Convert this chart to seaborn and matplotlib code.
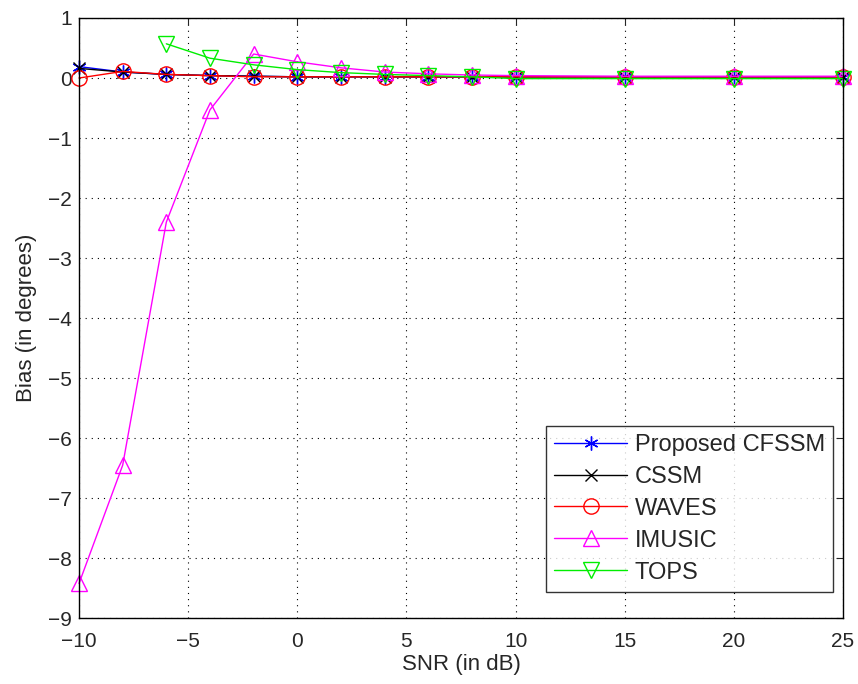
import matplotlib
matplotlib.use("Agg")
import matplotlib.pyplot as plt
import seaborn as sns
import pandas as pd

snr = [-10, -8, -6, -4, -2, 0, 2, 4, 6, 8, 10, 15, 20, 25]
snr_tops = [-6, -4, -2, 0, 2, 4, 6, 8, 10, 15, 20, 25]

proposed = [0.19, 0.10, 0.06, 0.04, 0.03, 0.02, 0.02, 0.02, 0.02, 0.02, 0.02, 0.02, 0.02, 0.02]
cssm = [0.16, 0.10, 0.06, 0.04, 0.03, 0.02, 0.02, 0.02, 0.02, 0.02, 0.02, 0.02, 0.02, 0.02]
waves = [0.0, 0.11, 0.06, 0.04, 0.02, 0.02, 0.02, 0.02, 0.02, 0.02, 0.02, 0.02, 0.02, 0.02]
imusic = [-8.42, -6.45, -2.4, -0.53, 0.4, 0.27, 0.17, 0.1, 0.07, 0.05, 0.04, 0.03, 0.03, 0.03]
tops = [0.57, 0.33, 0.22, 0.14, 0.09, 0.06, 0.04, 0.02, -0.01, -0.01, -0.01, -0.01]

names = ["Proposed CFSSM", "CSSM", "WAVES", "IMUSIC", "TOPS"]

rows = []
for name, xs, ys in [(names[0], snr, proposed), (names[1], snr, cssm),
                     (names[2], snr, waves), (names[3], snr, imusic),
                     (names[4], snr_tops, tops)]:
    for xv, yv in zip(xs, ys):
        rows.append({"method": name, "snr": xv, "bias": yv})
df = pd.DataFrame(rows)

sns.set_style("white")
plt.rcParams["font.family"] = ["Liberation Sans", "DejaVu Sans"]

fig = plt.figure(figsize=(8.58, 6.84), dpi=100)
ax = fig.add_axes([0.0921, 0.0961, 0.8904, 0.8776])

styles = {
    "Proposed CFSSM": dict(color="#0000ff", marker=(6, 2, 0), ms=10, mew=1.0),
    "CSSM": dict(color="#000000", marker="x", ms=8, mew=1.0),
    "WAVES": dict(color="#ff0000", marker="o", ms=11, mew=1.0, mfc="none"),
    "IMUSIC": dict(color="#ff00ff", marker="^", ms=12, mew=1.0, mfc="none"),
    "TOPS": dict(color="#00ee00", marker="v", ms=12, mew=1.0, mfc="none"),
}

for name in names:
    st = styles[name]
    sub = df[df["method"] == name]
    sns.lineplot(data=sub, x="snr", y="bias", ax=ax, label=name,
                 color=st["color"], marker=st["marker"], markersize=st["ms"],
                 markeredgewidth=st["mew"], markeredgecolor=st["color"],
                 markerfacecolor=st.get("mfc", st["color"]),
                 linewidth=1.0, sort=False, estimator=None, clip_on=False)

ax.set_xlim(-10, 25)
ax.set_ylim(-9, 1)
ax.set_xticks([-10, -5, 0, 5, 10, 15, 20, 25])
ax.set_yticks(list(range(-9, 2)))
ax.set_xticklabels(["\u221210", "\u22125", "0", "5", "10", "15", "20", "25"])
ax.set_yticklabels(["\u2212%d" % (-v) if v < 0 else str(v) for v in range(-9, 2)])
ax.tick_params(direction="in", top=True, right=True, labelsize=15, length=5, width=0.8)
ax.tick_params(axis="x", pad=10)
ax.tick_params(axis="y", pad=5)
ax.grid(True, linestyle=(0, (1, 4.5)), color="black", linewidth=0.8)
for s in ax.spines.values():
    s.set_color("black")
    s.set_linewidth(1.0)
ax.set_xlabel("SNR (in dB)", fontsize=16, labelpad=2)
ax.set_ylabel("Bias (in degrees)", fontsize=16, labelpad=8)

leg = ax.legend(loc="lower right", fontsize=17, frameon=True, fancybox=False,
                edgecolor="black", handlelength=3.1, handletextpad=0.3,
                borderpad=0.35, labelspacing=0.42, borderaxespad=0,
                bbox_to_anchor=(0.987, 0.044))
leg.get_frame().set_linewidth(1.0)

fig.savefig("out.png", dpi=100)
